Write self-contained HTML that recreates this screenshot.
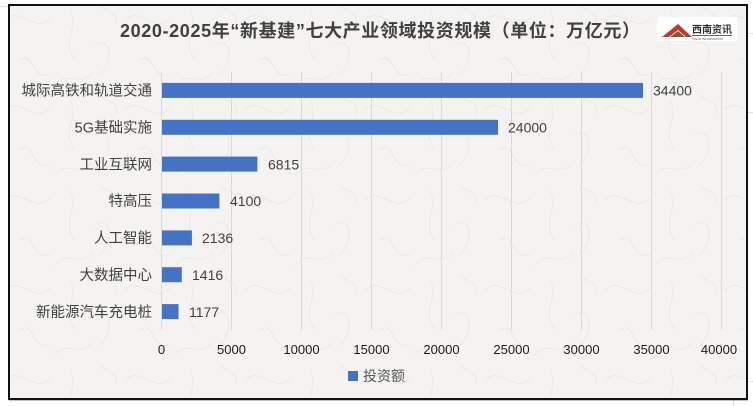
<!DOCTYPE html>
<html><head><meta charset="utf-8"><style>
html,body{margin:0;padding:0;background:#fff;}
svg{display:block;}
text{font-family:"Liberation Sans","Noto Sans CJK SC",sans-serif;}
</style></head><body>
<svg width="753" height="406" viewBox="0 0 753 406" xmlns="http://www.w3.org/2000/svg">
<defs>
<pattern id="tex" x="0" y="0" width="120" height="90" patternUnits="userSpaceOnUse">
<rect width="120" height="90" fill="#f4f3f1"/>
<g fill="none" stroke="#dcd9d4" stroke-width="0.7" opacity="0.55">
<path d="M5 20 C20 5, 35 35, 50 18"/>
<path d="M70 10 C80 30, 60 40, 75 60"/>
<path d="M95 45 C110 35, 115 60, 100 75"/>
<path d="M20 60 C35 50, 30 80, 50 75"/>
<path d="M55 85 C65 70, 85 88, 92 72"/>
<path d="M100 5 C108 15, 118 8, 116 25"/>
</g>
</pattern>
</defs>
<!-- outside sheet lines -->
<g stroke="#e3e3e3" stroke-width="1">
<line x1="0" y1="6.5" x2="8" y2="6.5"/>
<line x1="748" y1="33.5" x2="753" y2="33.5"/>
<line x1="748" y1="112.5" x2="753" y2="112.5"/>
<line x1="748" y1="381.5" x2="753" y2="381.5"/>
<line x1="733.5" y1="400" x2="733.5" y2="406"/>
</g>
<!-- frame -->
<rect x="9" y="5" width="738" height="394" fill="url(#tex)" stroke="#111" stroke-width="2"/>
<line x1="9" y1="399.5" x2="748" y2="399.5" stroke="#111" stroke-width="1.5"/>

<!-- title -->
<text x="380" y="37" text-anchor="middle" font-size="18" font-weight="bold" fill="#404040" textLength="520" lengthAdjust="spacing">2020-2025年“新基建”七大产业领域投资规模（单位：万亿元）</text>

<!-- logo -->
<rect x="657" y="17" width="80" height="24" fill="#fff"/>
<polygon points="662,37 678,24 692,37 686,37 678,30 669,37" fill="#c0392b"/>
<polygon points="670,37 678,31 685,37" fill="#7a5a3a"/>
<text x="692" y="33" font-size="10" font-weight="bold" fill="#333">西南资讯</text>
<line x1="692" y1="35.5" x2="732" y2="35.5" stroke="#333" stroke-width="0.8"/>
<text x="692" y="40" font-size="3" fill="#555">XINAN INFORMATION</text>

<!-- gridlines -->
<g stroke="#d9d9d9" stroke-width="1">
<line x1="161.5" y1="72" x2="161.5" y2="330"/>
<line x1="231.5" y1="72" x2="231.5" y2="330"/>
<line x1="301.5" y1="72" x2="301.5" y2="330"/>
<line x1="371.5" y1="72" x2="371.5" y2="330"/>
<line x1="441.5" y1="72" x2="441.5" y2="330"/>
<line x1="511.5" y1="72" x2="511.5" y2="330"/>
<line x1="581.5" y1="72" x2="581.5" y2="330"/>
<line x1="651.5" y1="72" x2="651.5" y2="330"/>
<line x1="721.5" y1="72" x2="721.5" y2="330"/>
</g>

<!-- bars -->
<g fill="#4472c4">
<rect x="162" y="82.9" width="481" height="15"/>
<rect x="162" y="119.8" width="336" height="15"/>
<rect x="162" y="156.6" width="95.4" height="15"/>
<rect x="162" y="193.5" width="57.4" height="15"/>
<rect x="162" y="230.4" width="29.9" height="15"/>
<rect x="162" y="267.2" width="19.8" height="15"/>
<rect x="162" y="304.1" width="16.5" height="15"/>
</g>

<!-- category labels -->
<g font-size="14.5" fill="#404040" text-anchor="end">
<text x="152" y="95.6">城际高铁和轨道交通</text>
<text x="152" y="132.5">5G基础实施</text>
<text x="152" y="169.3">工业互联网</text>
<text x="152" y="206.2">特高压</text>
<text x="152" y="243.1">人工智能</text>
<text x="152" y="279.9">大数据中心</text>
<text x="152" y="316.8">新能源汽车充电桩</text>
</g>

<!-- value labels -->
<g font-size="14" fill="#404040">
<text x="653" y="95.6">34400</text>
<text x="508" y="132.5">24000</text>
<text x="268" y="169.3">6815</text>
<text x="230" y="206.2">4100</text>
<text x="202" y="243.1">2136</text>
<text x="192" y="279.9">1416</text>
<text x="189" y="316.8">1177</text>
</g>

<!-- tick labels -->
<g font-size="13" fill="#1a1a1a" text-anchor="middle">
<text x="161.5" y="354">0</text>
<text x="231.5" y="354">5000</text>
<text x="301.5" y="354">10000</text>
<text x="371.5" y="354">15000</text>
<text x="441.5" y="354">20000</text>
<text x="511.5" y="354">25000</text>
<text x="581.5" y="354">30000</text>
<text x="651.5" y="354">35000</text>
<text x="719" y="354">40000</text>
</g>

<!-- legend -->
<rect x="348" y="371" width="10" height="10" fill="#4472c4"/>
<text x="363" y="381" font-size="14" fill="#595959">投资额</text>
</svg>
</body></html>
